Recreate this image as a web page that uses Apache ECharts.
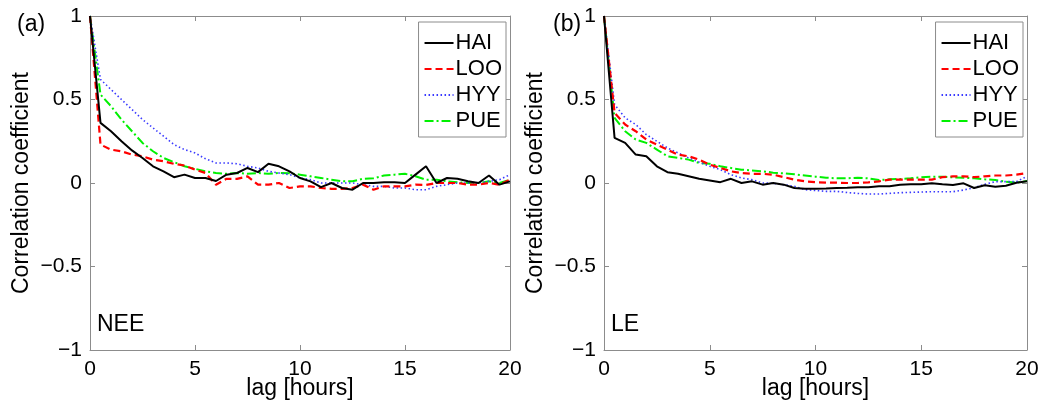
<!DOCTYPE html>
<html><head><meta charset="utf-8">
<script src="https://cdn.jsdelivr.net/npm/echarts@6/dist/echarts.min.js"></script>
<style>html,body{margin:0;padding:0;background:#fff}#c{width:1044px;height:404px}</style>
</head><body><div id="c"></div>
<script>
const lags = [0,0.5,1,1.5,2,2.5,3,3.5,4,4.5,5,5.5,6,6.5,7,7.5,8,8.5,9,9.5,10,10.5,11,11.5,12,12.5,13,13.5,14,14.5,15,15.5,16,16.5,17,17.5,18,18.5,19,19.5,20];
const seriesNames = ['HAI','LOO','HYY','PUE'];
const xTicks = [0,5,10,15,20];
const yTicks = [-1,-0.5,0,0.5,1];
// Panel (a) NEE
const neeHAI = [1,0.36,0.31,0.25,0.195,0.15,0.10,0.07,0.035,0.05,0.03,0.03,0.012,0.05,0.06,0.09,0.065,0.115,0.10,0.07,0.03,0.01,-0.025,0.0,-0.03,-0.04,0.0,0.0,0.005,0.005,0.0,0.05,0.10,0.0,0.03,0.025,0.01,0.0,0.045,-0.01,0.01];
const neeLOO = [1,0.23,0.20,0.19,0.17,0.16,0.14,0.13,0.115,0.105,0.08,0.06,-0.01,0.025,0.025,0.04,-0.01,-0.01,0.0,-0.03,-0.02,-0.02,-0.03,-0.035,-0.035,-0.03,-0.01,-0.04,-0.02,-0.02,-0.02,-0.01,-0.012,0.0,0.0,0.0,-0.01,-0.01,0.0,-0.01,0.02];
const neeHYY = [1,0.62,0.56,0.50,0.44,0.38,0.33,0.28,0.23,0.20,0.18,0.145,0.12,0.12,0.115,0.10,0.09,0.07,0.06,0.05,0.03,0.02,0.0,0.0,0.0,0.0,-0.01,-0.02,-0.02,-0.03,-0.03,-0.04,-0.04,-0.02,-0.01,0.0,0.0,0.0,0.01,0.02,0.05];
const neePUE = [1,0.53,0.46,0.38,0.31,0.24,0.19,0.15,0.125,0.10,0.085,0.07,0.06,0.055,0.06,0.055,0.06,0.055,0.06,0.058,0.05,0.04,0.03,0.02,0.01,0.01,0.025,0.028,0.045,0.05,0.055,0.04,0.02,0.02,0.01,0.005,0.0,0.0,0.01,0.0,0.02];
// Panel (b) LE
const leHAI = [1,0.27,0.24,0.17,0.16,0.10,0.065,0.055,0.04,0.025,0.015,0.005,0.025,0.0,0.01,-0.01,0.0,-0.01,-0.03,-0.035,-0.035,-0.033,-0.03,-0.028,-0.025,-0.025,-0.02,-0.02,-0.01,-0.008,-0.008,-0.002,-0.008,-0.012,-0.002,-0.03,-0.014,-0.022,-0.016,0.002,0.01];
const leLOO = [1,0.42,0.35,0.31,0.26,0.23,0.20,0.17,0.16,0.14,0.11,0.09,0.07,0.06,0.055,0.055,0.05,0.035,0.02,0.01,0.005,0.002,0.002,0.0,0.0,0.004,0.01,0.02,0.02,0.02,0.02,0.02,0.035,0.04,0.04,0.035,0.04,0.045,0.045,0.05,0.06];
const leHYY = [1,0.47,0.39,0.35,0.29,0.25,0.21,0.18,0.15,0.125,0.10,0.08,0.05,0.03,0.02,0.0,-0.002,-0.01,-0.02,-0.04,-0.045,-0.05,-0.05,-0.057,-0.062,-0.066,-0.066,-0.062,-0.058,-0.056,-0.054,-0.052,-0.052,-0.052,-0.042,-0.028,-0.008,0.008,0.008,0.008,0.04];
const lePUE = [1,0.39,0.31,0.26,0.24,0.20,0.16,0.15,0.14,0.12,0.115,0.10,0.09,0.08,0.075,0.07,0.062,0.058,0.052,0.045,0.038,0.032,0.028,0.028,0.032,0.028,0.018,0.022,0.024,0.028,0.034,0.038,0.038,0.034,0.032,0.028,0.022,0.018,0.008,0.002,0.012];

const colors = {HAI:'#000000', LOO:'#ff0000', HYY:'#3a3aff', PUE:'#00f000'};
const styles = {
  HAI:{type:'solid', width:2},
  LOO:{type:[7,4], width:2.2},
  HYY:{type:[1.5,2.5], width:1.6},
  PUE:{type:[9,3,2,3], width:2}
};
const panels = [
  {data:[neeHAI,neeLOO,neeHYY,neePUE], left:90, width:420, tag:'(a)', tagLeft:17, name:'NEE'},
  {data:[leHAI,leLOO,leHYY,lePUE], left:604, width:423, tag:'(b)', tagLeft:553, name:'LE'}
];
const TOP=16, H=334;
const font = '"Liberation Sans", Arial, sans-serif';
const grid=[], xAxis=[], yAxis=[], series=[], legend=[], graphic=[];
panels.forEach((p,i)=>{
  grid.push({left:p.left, top:TOP, width:p.width, height:H, show:false, outerBoundsMode:'none', containLabel:false});
  const axLine = {show:true, onZero:false, lineStyle:{color:'#8c8c8c', width:1}};
  const tick = {show:true, inside:true, length:5, lineStyle:{color:'#8c8c8c'}};
  xAxis.push({type:'value', gridIndex:i, min:0, max:20, interval:5, position:'bottom',
    axisLine:axLine, axisTick:tick, splitLine:{show:false},
    axisLabel:{color:'#000', fontSize:21, fontFamily:font, margin:9},
    name:'lag [hours]', nameLocation:'middle', nameGap:27, nameMoveOverlap:false,
    nameTextStyle:{color:'#000', fontSize:23, fontFamily:font}});
  xAxis.push({type:'value', gridIndex:i, min:0, max:20, interval:5, position:'top',
    axisLine:axLine, axisTick:tick, axisLabel:{show:false}, splitLine:{show:false}});
  yAxis.push({type:'value', gridIndex:i, min:-1, max:1, interval:0.5, position:'left',
    axisLine:axLine, axisTick:tick, splitLine:{show:false},
    axisLabel:{color:'#000', fontSize:21, fontFamily:font, margin:8,
      formatter:v=> (v<0?'\u2212':'') + String(Math.abs(v))},
    name:'Correlation coefficient', nameLocation:'middle', nameGap:57, nameRotate:90, nameMoveOverlap:false,
    nameTextStyle:{color:'#000', fontSize:23, fontFamily:font}});
  yAxis.push({type:'value', gridIndex:i, min:-1, max:1, interval:0.5, position:'right',
    axisLine:axLine, axisTick:tick, axisLabel:{show:false}, splitLine:{show:false}});
  seriesNames.forEach((n,k)=>{
    series.push({type:'line', name:n, xAxisIndex:2*i, yAxisIndex:2*i,
      data:lags.map((x,j)=>[x,p.data[k][j]]), showSymbol:false, symbol:'none',
      color:colors[n], lineStyle:Object.assign({color:colors[n]}, styles[n]),
      animation:false, z:10-k});
  });
  legend.push({orient:'vertical', right: 1044-(p.left+p.width)+4, top:22,
    data:seriesNames.map(n=>({name:n})), itemWidth:29, itemHeight:14, itemGap:4,
    backgroundColor:'#fff', borderColor:'#8c8c8c', borderWidth:1, padding:[10,4,5,5],
    itemStyle:{opacity:0},
    textStyle:{color:'#000', fontSize:22, lineHeight:22, fontFamily:font, padding:[0,0,0,-3]},
    selectedMode:false});
  graphic.push({type:'text', left:p.tagLeft, top:13, style:{text:p.tag, fontSize:23, fontFamily:font, fill:'#000'}});
  graphic.push({type:'text', left:p.left+7, top:313, style:{text:p.name, fontSize:23, fontFamily:font, fill:'#000'}});
});
const chart = echarts.init(document.getElementById('c'), null, {renderer:'canvas'});
chart.setOption({animation:false, grid, xAxis, yAxis, series, legend, graphic});
</script></body></html>
